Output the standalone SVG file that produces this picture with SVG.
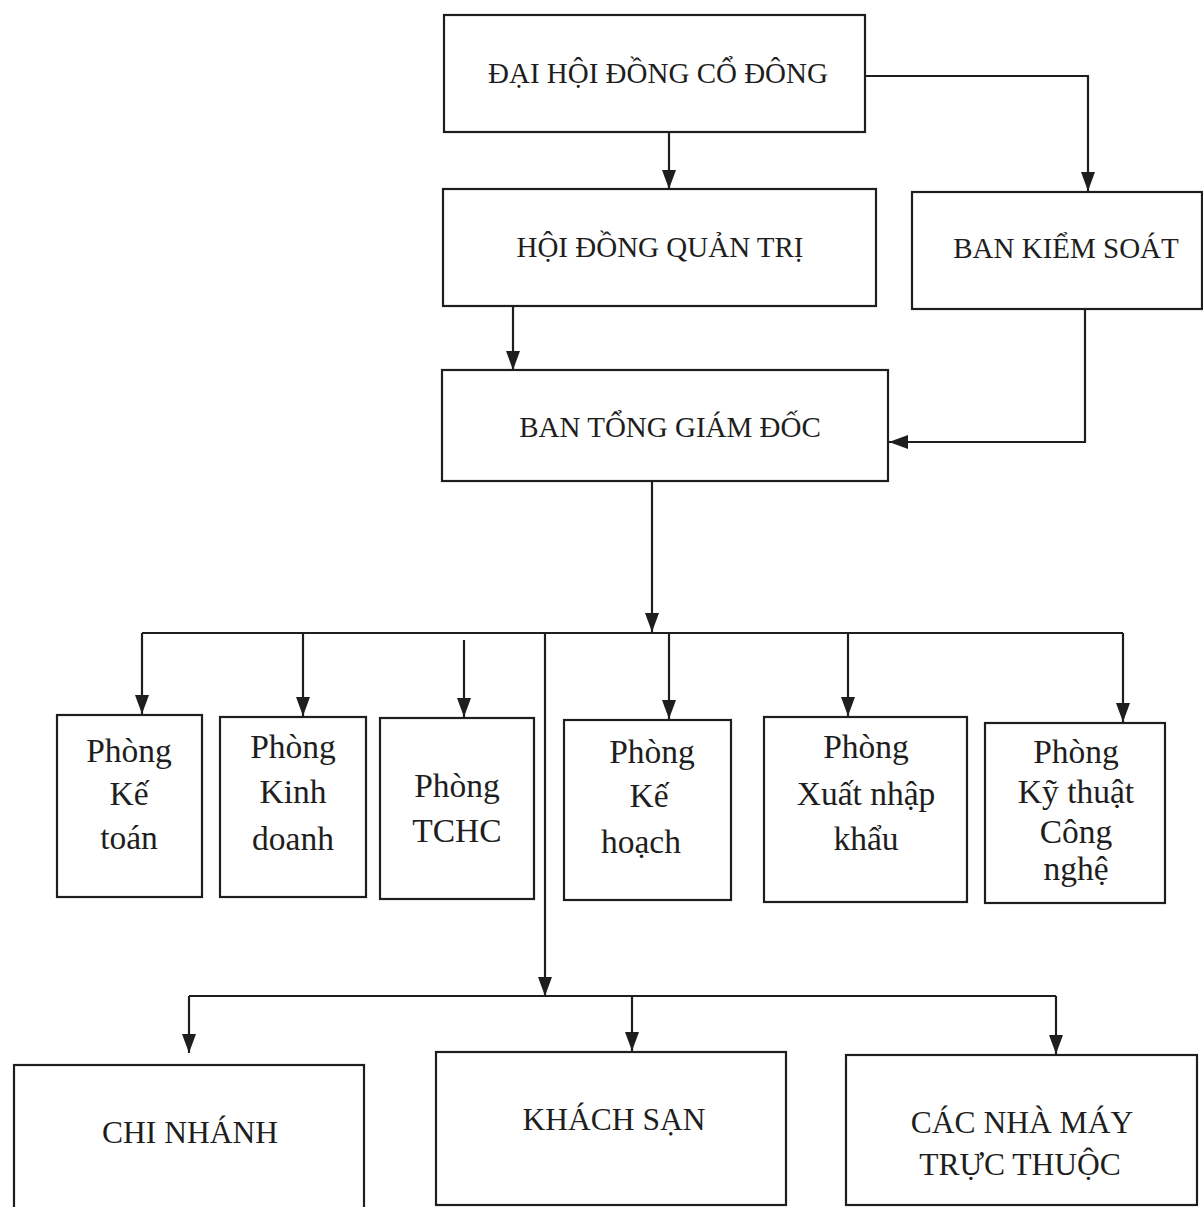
<svg xmlns="http://www.w3.org/2000/svg" width="1203" height="1207" viewBox="0 0 1203 1207">
<style>
.box{fill:#fff;stroke:#1e1e1e;stroke-width:2.2}
.ln{fill:none;stroke:#1e1e1e;stroke-width:2.2}
text{font-family:"Liberation Serif","Times New Roman",serif;fill:#1e1e1e;text-anchor:middle}
.h{font-size:29px}
.d{font-size:33.5px}
.b{font-size:31.5px}
</style>
<defs>
<marker id="ar" markerUnits="userSpaceOnUse" markerWidth="14" markerHeight="20" refX="7" refY="19" orient="0" viewBox="0 0 14 20">
<path d="M0,0 L14,0 L7,19 z" fill="#1e1e1e"/>
</marker>
<marker id="al" markerUnits="userSpaceOnUse" markerWidth="20" markerHeight="14" refX="1" refY="7" orient="0" viewBox="0 0 20 14">
<path d="M20,0 L20,14 L1,7 z" fill="#1e1e1e"/>
</marker>
</defs>
<rect width="1203" height="1207" fill="#fff"/>
<g id="connectors">
<path class="ln" d="M669,132 V189" marker-end="url(#ar)"/>
<path class="ln" d="M865,76 H1088 V191" marker-end="url(#ar)"/>
<path class="ln" d="M513,306 V370" marker-end="url(#ar)"/>
<path class="ln" d="M1085,309 V442 H889" marker-end="url(#al)"/>
<path class="ln" d="M652,481 V632" marker-end="url(#ar)"/>
<path class="ln" d="M142,633 H1123"/>
<path class="ln" d="M142,633 V714" marker-end="url(#ar)"/>
<path class="ln" d="M303,633 V716" marker-end="url(#ar)"/>
<path class="ln" d="M464,640 V717" marker-end="url(#ar)"/>
<path class="ln" d="M669,633 V719" marker-end="url(#ar)"/>
<path class="ln" d="M848,633 V716" marker-end="url(#ar)"/>
<path class="ln" d="M1123,633 V722" marker-end="url(#ar)"/>
<path class="ln" d="M545,633 V996" marker-end="url(#ar)"/>
<path class="ln" d="M189,996 H1056"/>
<path class="ln" d="M189,996 V1053" marker-end="url(#ar)"/>
<path class="ln" d="M632,996 V1051" marker-end="url(#ar)"/>
<path class="ln" d="M1056,996 V1054" marker-end="url(#ar)"/>
</g>
<g id="dhdcd"><rect class="box" x="444" y="15" width="421" height="117"/><text class="h" x="658" y="83">ĐẠI HỘI ĐỒNG CỔ ĐÔNG</text></g>
<g id="hdqt"><rect class="box" x="443" y="189" width="433" height="117"/><text class="h" x="660" y="257">HỘI ĐỒNG QUẢN TRỊ</text></g>
<g id="bks"><rect class="box" x="912" y="192" width="290" height="117"/><text class="h" x="1066" y="258">BAN KIỂM SOÁT</text></g>
<g id="btgd"><rect class="box" x="442" y="370" width="446" height="111"/><text class="h" x="670" y="437">BAN TỔNG GIÁM ĐỐC</text></g>
<g id="ketoan"><rect class="box" x="57" y="715" width="145" height="182"/>
<text class="d" x="129" y="762">Phòng</text><text class="d" x="129" y="805">Kế</text><text class="d" x="129" y="849">toán</text></g>
<g id="kinhdoanh"><rect class="box" x="220" y="717" width="146" height="180"/>
<text class="d" x="293" y="758">Phòng</text><text class="d" x="293" y="803">Kinh</text><text class="d" x="293" y="850">doanh</text></g>
<g id="tchc"><rect class="box" x="380" y="718" width="154" height="181"/>
<text class="d" x="457" y="797">Phòng</text><text class="d" x="457" y="842">TCHC</text></g>
<g id="kehoach"><rect class="box" x="564" y="720" width="167" height="180"/>
<text class="d" x="652" y="763">Phòng</text><text class="d" x="649" y="807">Kế</text><text class="d" x="641" y="853">hoạch</text></g>
<g id="xnk"><rect class="box" x="764" y="717" width="203" height="185"/>
<text class="d" x="866" y="758">Phòng</text><text class="d" x="866" y="805">Xuất nhập</text><text class="d" x="866" y="850">khẩu</text></g>
<g id="ktcn"><rect class="box" x="985" y="723" width="180" height="180"/>
<text class="d" x="1076" y="763">Phòng</text><text class="d" x="1076" y="803">Kỹ thuật</text><text class="d" x="1076" y="843">Công</text><text class="d" x="1076" y="880">nghệ</text></g>
<g id="chinhanh"><rect class="box" x="14" y="1065" width="350" height="160"/><text class="b" x="190" y="1143">CHI NHÁNH</text></g>
<g id="khachsan"><rect class="box" x="436" y="1052" width="350" height="153"/><text class="b" x="614" y="1130">KHÁCH SẠN</text></g>
<g id="nhamay"><rect class="box" x="846" y="1055" width="351" height="150"/><text class="b" x="1022" y="1133">CÁC NHÀ MÁY</text><text class="b" x="1020" y="1175">TRỰC THUỘC</text></g>
</svg>
